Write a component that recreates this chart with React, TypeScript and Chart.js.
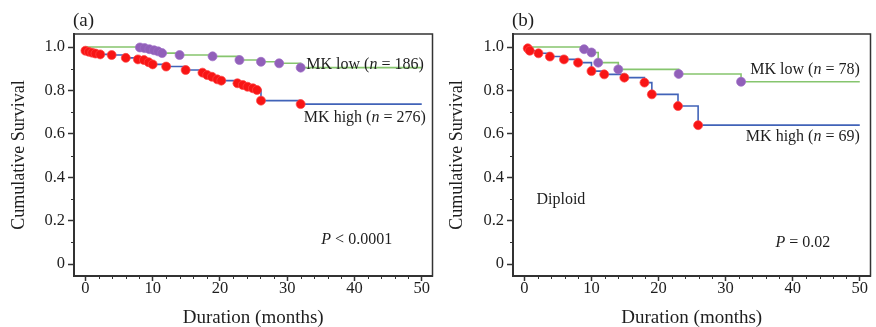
import React, { useEffect, useRef } from 'react';
import { Chart, registerables } from 'chart.js';
Chart.register(...registerables);

const FONT = '"Liberation Serif", "Times New Roman", serif';

const X_TICKS = [0, 10, 20, 30, 40, 50];
const X_TICK_LABELS = ['0', '10', '20', '30', '40', '50'];
const Y_TICKS = [0, 0.2, 0.4, 0.6, 0.8, 1.0];
const Y_TICK_LABELS = ['0', '0.2', '0.4', '0.6', '0.8', '1.0'];
const X_MINOR = [2, 4, 6, 8, 12, 14, 16, 18, 22, 24, 26, 28, 32, 34, 36, 38, 42, 44, 46, 48];
const Y_MINOR = [0.1, 0.3, 0.5, 0.7, 0.9];

// Panel (a) — MK low (green curve, purple marks)
const A_LOW_T = [0, 8.1, 8.8, 9.5, 10.2, 10.8, 11.4, 14.0, 18.9, 22.9, 26.1, 28.8, 32.0, 50];
const A_LOW_S = [1.0, 0.998, 0.995, 0.99, 0.985, 0.98, 0.972, 0.963, 0.957, 0.94, 0.932, 0.925, 0.905, 0.905];
const A_LOW_MARK_T = [8.1, 8.8, 9.5, 10.2, 10.8, 11.4, 14.0, 18.9, 22.9, 26.1, 28.8, 32.0];
const A_LOW_MARK_S = [0.998, 0.995, 0.99, 0.985, 0.98, 0.972, 0.963, 0.957, 0.94, 0.932, 0.925, 0.905];
// Panel (a) — MK high (blue curve, red marks)
const A_HIGH_MARK_T = [0, 0.5, 1.0, 1.5, 2.2, 3.9, 6.0, 7.8, 8.7, 9.4, 10.0, 12.0, 14.9, 17.4, 18.1, 18.8, 19.6, 20.2, 22.6, 23.4, 24.1, 24.9, 25.5, 26.1, 32.0];
const A_HIGH_MARK_S = [0.983, 0.978, 0.974, 0.97, 0.966, 0.963, 0.95, 0.943, 0.94, 0.93, 0.92, 0.91, 0.894, 0.882, 0.871, 0.863, 0.851, 0.845, 0.833, 0.825, 0.817, 0.81, 0.802, 0.753, 0.737];
const A_HIGH_T = [0, 0.5, 1.0, 1.5, 2.2, 3.9, 6.0, 7.8, 8.7, 9.4, 10.0, 12.0, 14.9, 17.4, 18.1, 18.8, 19.6, 20.2, 22.6, 23.4, 24.1, 24.9, 25.5, 26.1, 32.0, 50];
const A_HIGH_S = [0.985, 0.978, 0.974, 0.97, 0.966, 0.963, 0.95, 0.943, 0.94, 0.93, 0.92, 0.91, 0.894, 0.882, 0.871, 0.863, 0.851, 0.845, 0.833, 0.825, 0.817, 0.81, 0.802, 0.753, 0.737, 0.737];

// Panel (b) — Diploid
const B_LOW_T = [0, 8.9, 10.0, 11.0, 14.0, 23.0, 32.3, 50];
const B_LOW_S = [1.0, 0.99, 0.975, 0.928, 0.897, 0.876, 0.84, 0.84];
const B_LOW_MARK_T = [8.9, 10.0, 11.0, 14.0, 23.0, 32.3];
const B_LOW_MARK_S = [0.99, 0.975, 0.928, 0.897, 0.876, 0.84];
const B_HIGH_T = [0, 0.5, 0.8, 2.1, 3.8, 5.9, 8.0, 10.0, 11.9, 14.9, 17.9, 19.0, 22.9, 25.9, 50];
const B_HIGH_S = [1.0, 0.994, 0.983, 0.971, 0.956, 0.943, 0.928, 0.889, 0.874, 0.859, 0.836, 0.782, 0.728, 0.64, 0.64];
const B_HIGH_MARK_T = [0.5, 0.8, 2.1, 3.8, 5.9, 8.0, 10.0, 11.9, 14.9, 17.9, 19.0, 22.9, 25.9];
const B_HIGH_MARK_S = [0.994, 0.983, 0.971, 0.956, 0.943, 0.928, 0.889, 0.874, 0.859, 0.836, 0.782, 0.728, 0.64];

const GREEN = '#86c56e';
const BLUE = '#4163b8';
const PURPLE = '#9160b9';
const RED = '#f81515';
const AXIS = '#333333';
const TEXT = '#1e1e1e';

const pts = (t: number[], s: number[]) => t.map((v, i) => ({ x: v, y: s[i] }));

type Part = { t: string; i?: boolean };
type Note = { parts: Part[]; x: number; y: number; align: 'left' | 'right' };

function drawRich(ctx: CanvasRenderingContext2D, parts: Part[], x: number, y: number, align: string, size: number) {
  const fontFor = (p: Part) => `${p.i ? 'italic ' : ''}${size}px ${FONT}`;
  let total = 0;
  for (const p of parts) { ctx.font = fontFor(p); total += ctx.measureText(p.t).width; }
  let cx = align === 'right' ? x - total : x;
  ctx.textAlign = 'left';
  ctx.textBaseline = 'middle';
  for (const p of parts) {
    ctx.font = fontFor(p);
    ctx.fillText(p.t, cx, y);
    cx += ctx.measureText(p.t).width;
  }
}

type PanelCfg = {
  letter: string;
  lowT: number[]; lowS: number[]; lowMT: number[]; lowMS: number[];
  highT: number[]; highS: number[]; highMT: number[]; highMS: number[];
  notes: Note[];
  yWidth: number; padRight: number;
};

function Panel({ cfg }: { cfg: PanelCfg }) {
  const ref = useRef<HTMLCanvasElement | null>(null);
  useEffect(() => {
    const deco = {
      id: 'deco',
      afterDraw(chart: any) {
        const { ctx, chartArea: ca, scales } = chart;
        const x = scales.x, y = scales.y;
        ctx.save();
        ctx.strokeStyle = AXIS;
        ctx.lineWidth = 1.5;
        ctx.strokeRect(ca.left, ca.top, ca.right - ca.left, ca.bottom - ca.top);
        ctx.lineWidth = 1;
        ctx.beginPath();
        for (const v of X_MINOR) {
          const px = Math.round(x.getPixelForValue(v)) + 0.5;
          ctx.moveTo(px, ca.bottom);
          ctx.lineTo(px, ca.bottom + 3);
        }
        for (const v of Y_MINOR) {
          const py = Math.round(y.getPixelForValue(v)) + 0.5;
          ctx.moveTo(ca.left - 3, py);
          ctx.lineTo(ca.left, py);
        }
        ctx.stroke();
        ctx.fillStyle = TEXT;
        for (const n of cfg.notes) {
          drawRich(ctx, n.parts, x.getPixelForValue(n.x), y.getPixelForValue(n.y), n.align, 16);
        }
        drawRich(ctx, [{ t: cfg.letter }], ca.left - 1, ca.top - 13, 'left', 19);
        ctx.restore();
      },
    };
    const tickFont = { family: FONT, size: 16.5 };
    const chart = new Chart(ref.current as HTMLCanvasElement, {
      type: 'line',
      data: {
        datasets: [
          { label: 'low marks', data: pts(cfg.lowMT, cfg.lowMS), showLine: false, pointRadius: 4.5, pointBackgroundColor: PURPLE, pointBorderColor: 'rgba(160,110,200,0.7)', pointBorderWidth: 1, order: 1 },
          { label: 'high marks', data: pts(cfg.highMT, cfg.highMS), showLine: false, pointRadius: 4.5, pointBackgroundColor: RED, pointBorderColor: 'rgba(255,70,70,0.7)', pointBorderWidth: 1, order: 0 },
          { label: 'low', data: pts(cfg.lowT, cfg.lowS), stepped: true, borderColor: GREEN, borderWidth: 1.6, pointRadius: 0, fill: false, order: 3 },
          { label: 'high', data: pts(cfg.highT, cfg.highS), stepped: true, borderColor: BLUE, borderWidth: 1.6, pointRadius: 0, fill: false, order: 2 },
        ],
      },
      options: {
        animation: false,
        responsive: false,
        devicePixelRatio: 1,
        layout: { padding: { left: 0, top: 34, right: cfg.padRight, bottom: 0 } },
        plugins: { legend: { display: false }, tooltip: { enabled: false } },
        scales: {
          x: {
            type: 'linear',
            min: -1.7,
            max: 51.6,
            afterBuildTicks: (s: any) => { s.ticks = X_TICKS.map((v) => ({ value: v })); },
            afterFit: (s: any) => { s.height = 51; },
            ticks: {
              font: tickFont, color: TEXT, padding: -2, maxRotation: 0, autoSkip: false,
              callback: (v: any) => X_TICK_LABELS[X_TICKS.indexOf(Number(v))] ?? '',
            },
            grid: { display: true, drawOnChartArea: false, drawTicks: true, tickLength: 5, tickColor: AXIS, tickWidth: 1.5 },
            border: { display: true, color: AXIS, width: 2 },
            title: { display: true, text: 'Duration (months)', font: { family: FONT, size: 19 }, color: TEXT, padding: { top: 0, bottom: -2 } },
          },
          y: {
            type: 'linear',
            min: -0.055,
            max: 1.06,
            afterBuildTicks: (s: any) => { s.ticks = Y_TICKS.map((v) => ({ value: v })); },
            afterFit: (s: any) => { s.width = cfg.yWidth; },
            ticks: {
              font: tickFont, color: TEXT, padding: 3, autoSkip: false,
              callback: (v: any) => {
                const i = Y_TICKS.findIndex((t) => Math.abs(t - Number(v)) < 1e-6);
                return i >= 0 ? Y_TICK_LABELS[i] : '';
              },
            },
            grid: { display: true, drawOnChartArea: false, drawTicks: true, tickLength: 6, tickColor: AXIS, tickWidth: 1.5 },
            border: { display: true, color: AXIS, width: 2 },
            title: { display: true, text: 'Cumulative Survival', font: { family: FONT, size: 18 }, color: TEXT, padding: { top: 8, bottom: 0 } },
          },
        },
      },
      plugins: [deco],
    } as any);
    return () => chart.destroy();
  }, []);
  return <canvas ref={ref} width={438} height={327} style={{ display: 'block', width: 438, height: 327 }} />;
}

const PANEL_A: PanelCfg = {
  letter: '(a)',
  lowT: A_LOW_T, lowS: A_LOW_S, lowMT: A_LOW_MARK_T, lowMS: A_LOW_MARK_S,
  highT: A_HIGH_T, highS: A_HIGH_S, highMT: A_HIGH_MARK_T, highMS: A_HIGH_MARK_S,
  notes: [
    { parts: [{ t: 'MK low (' }, { t: 'n', i: true }, { t: ' = 186)' }], x: 50.3, y: 0.92, align: 'right' },
    { parts: [{ t: 'MK high (' }, { t: 'n', i: true }, { t: ' = 276)' }], x: 50.6, y: 0.673, align: 'right' },
    { parts: [{ t: 'P', i: true }, { t: ' < 0.0001' }], x: 45.6, y: 0.11, align: 'right' },
  ],
  yWidth: 74, padRight: 4,
};

const PANEL_B: PanelCfg = {
  letter: '(b)',
  lowT: B_LOW_T, lowS: B_LOW_S, lowMT: B_LOW_MARK_T, lowMS: B_LOW_MARK_S,
  highT: B_HIGH_T, highS: B_HIGH_S, highMT: B_HIGH_MARK_T, highMS: B_HIGH_MARK_S,
  notes: [
    { parts: [{ t: 'MK low (' }, { t: 'n', i: true }, { t: ' = 78)' }], x: 50, y: 0.894, align: 'right' },
    { parts: [{ t: 'MK high (' }, { t: 'n', i: true }, { t: ' = 69)' }], x: 50, y: 0.585, align: 'right' },
    { parts: [{ t: 'Diploid' }], x: 1.8, y: 0.295, align: 'left' },
    { parts: [{ t: 'P', i: true }, { t: ' = 0.02' }], x: 45.6, y: 0.10, align: 'right' },
  ],
  yWidth: 75, padRight: 2,
};

export default function App() {
  return (
    <div style={{ position: 'absolute', left: 0, top: 0, width: 876, height: 327, background: '#fff', display: 'flex' }}>
      <Panel cfg={PANEL_A} />
      <Panel cfg={PANEL_B} />
    </div>
  );
}
